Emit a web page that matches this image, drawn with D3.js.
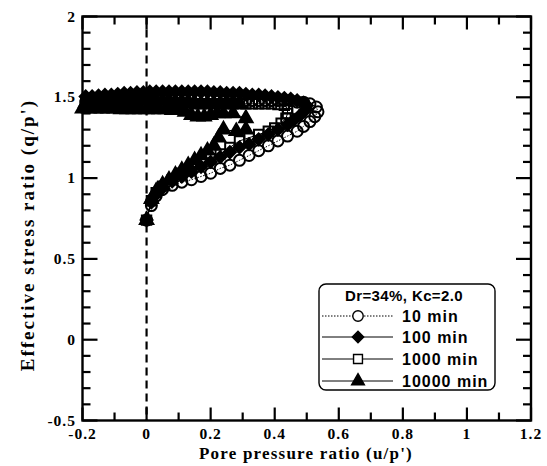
<!DOCTYPE html>
<html><head><meta charset="utf-8">
<script src="https://cdn.jsdelivr.net/npm/d3@7"></script>
<style>body{margin:0;background:#fff}</style>
</head><body>
<svg id="c" width="547" height="466"></svg>
<script>
const xTicks = [-0.2,0,0.2,0.4,0.6,0.8,1,1.2];
const yTicks = [-0.5,0,0.5,1,1.5,2];
const legendTitle = "Dr=34%, Kc=2.0";
const seriesNames = ["10 min","100 min","1000 min","10000 min"];

// 10 min (open circles, dotted line)
const u10 = [0,0.015,0.03,0.05,0.08,0.11,0.14,0.17,0.20,0.23,0.26,0.29,0.32,0.35,0.38,0.41,0.44,0.47,0.49,0.51,0.525,0.535,
  0.53,0.51,0.49,0.47,0.45,0.43,0.41,0.39,0.37,0.35,0.33,0.31,0.29,0.27,0.25,0.23,0.21,0.19,0.17,0.15,0.13,0.11,0.09,0.07,0.05,0.03,0.01,-0.01,-0.03,-0.05,-0.07,-0.09,-0.11,-0.13,-0.15,-0.17,-0.19];
const q10 = [0.74,0.83,0.89,0.93,0.955,0.975,0.99,1.01,1.03,1.06,1.08,1.11,1.14,1.17,1.20,1.23,1.26,1.29,1.32,1.35,1.38,1.41,
  1.44,1.46,1.47,1.47,1.48,1.48,1.48,1.48,1.48,1.48,1.48,1.48,1.49,1.49,1.49,1.49,1.49,1.49,1.49,1.49,1.49,1.49,1.49,1.49,1.49,1.49,1.49,1.49,1.48,1.48,1.48,1.48,1.48,1.47,1.47,1.47,1.47];
// 100 min (filled diamonds)
const u100 = [0,0.015,0.03,0.05,0.08,0.11,0.14,0.17,0.20,0.23,0.26,0.29,0.32,0.35,0.38,0.41,0.44,0.46,0.48,0.495,0.50,
  0.49,0.47,0.45,0.43,0.41,0.39,0.37,0.35,0.33,0.31,0.29,0.27,0.25,0.23,0.21,0.19,0.17,0.15,0.13,0.11,0.09,0.07,0.05,0.03,0.01,-0.01,-0.03,-0.05,-0.07,-0.09,-0.11,-0.13,-0.15,-0.17,-0.19];
const q100 = [0.74,0.85,0.90,0.94,0.98,1.01,1.04,1.07,1.10,1.13,1.16,1.19,1.21,1.24,1.27,1.30,1.33,1.36,1.39,1.42,1.45,
  1.465,1.48,1.49,1.495,1.50,1.505,1.51,1.515,1.515,1.52,1.525,1.525,1.525,1.53,1.53,1.535,1.535,1.535,1.535,1.535,1.535,1.535,1.535,1.535,1.535,1.53,1.53,1.525,1.525,1.52,1.515,1.515,1.51,1.505,1.505];
// 1000 min (open squares)
const u1000 = [0,0.015,0.03,0.05,0.08,0.11,0.14,0.17,0.20,0.23,0.26,0.29,0.32,0.35,0.38,0.40,0.42,0.435,0.44,0.44,
  0.43,0.41,0.39,0.37,0.35,0.33,0.31,0.29,0.27,0.25,0.23,0.21,0.19,0.17,0.15,0.13,0.11,0.09,0.07,0.05,0.03,0.01,-0.01,-0.03,-0.05,-0.07,-0.09,-0.11,-0.13,-0.15,-0.17,-0.19];
const q1000 = [0.74,0.86,0.91,0.95,0.99,1.03,1.06,1.09,1.12,1.15,1.19,1.23,1.25,1.27,1.29,1.31,1.34,1.37,1.40,1.43,
  1.45,1.455,1.46,1.46,1.46,1.46,1.46,1.46,1.46,1.46,1.46,1.46,1.46,1.46,1.46,1.465,1.465,1.465,1.465,1.47,1.47,1.47,1.47,1.47,1.465,1.465,1.465,1.46,1.46,1.46,1.46,1.46];
// 10000 min (filled triangles)
const u10000 = [0,0.015,0.03,0.05,0.07,0.09,0.11,0.13,0.15,0.17,0.19,0.21,0.225,0.24,0.28,0.31,0.31,0.27,0.24,
  0.22,0.20,0.18,0.16,0.14,0.12,0.10,0.08,0.06,0.04,0.02,0.00,-0.02,-0.04,-0.06,-0.08,-0.10,-0.12,-0.14,-0.16,-0.18,-0.20,
  -0.19,-0.17,-0.15,-0.13,-0.11,-0.09,-0.07,-0.05,-0.03,-0.01,0.01,0.03,0.05,0.07,0.09,0.11,0.13,0.15,0.17,0.19,0.21,0.23,0.25,0.27,0.29];
const q10000 = [0.74,0.87,0.92,0.96,0.99,1.02,1.05,1.08,1.11,1.14,1.17,1.20,1.25,1.30,1.29,1.30,1.37,1.40,1.40,
  1.40,1.39,1.38,1.38,1.39,1.41,1.42,1.42,1.425,1.425,1.425,1.425,1.425,1.425,1.425,1.425,1.43,1.43,1.43,1.43,1.43,1.43,
  1.465,1.47,1.475,1.475,1.48,1.48,1.48,1.48,1.48,1.48,1.48,1.48,1.48,1.48,1.475,1.47,1.47,1.465,1.46,1.46,1.46,1.46,1.46,1.46,1.46];

const svg = d3.select("#c");
svg.append("rect").attr("width",547).attr("height",466).attr("fill","#fff");
const L=82.5, R=531, T=16.5, B=420.5;
const x = d3.scaleLinear().domain([-0.2,1.2]).range([L,R]);
const y = d3.scaleLinear().domain([-0.5,2]).range([B,T]);

// ticks (inward, all four sides)
const ax = svg.append("g").attr("stroke","#000").attr("stroke-width",2.2);
const xMinor = d3.range(-2,13).map(i=>i/10);
const yMinor = d3.range(-5,21).map(i=>i/10);
const isMajX = v => xTicks.some(t=>Math.abs(t-v)<1e-6);
const isMajY = v => yTicks.some(t=>Math.abs(t-v)<1e-6);
xMinor.forEach(v=>{
  const len = isMajX(v)?13:8;
  ax.append("line").attr("x1",x(v)).attr("x2",x(v)).attr("y1",B).attr("y2",B-len);
  ax.append("line").attr("x1",x(v)).attr("x2",x(v)).attr("y1",T).attr("y2",T+len);
});
yMinor.forEach(v=>{
  const len = isMajY(v)?15:8;
  ax.append("line").attr("y1",y(v)).attr("y2",y(v)).attr("x1",L).attr("x2",L+len);
  ax.append("line").attr("y1",y(v)).attr("y2",y(v)).attr("x1",R).attr("x2",R-len);
});
svg.append("rect").attr("x",L).attr("y",T).attr("width",R-L).attr("height",B-T)
  .attr("fill","none").attr("stroke","#000").attr("stroke-width",2.4);

// dashed zero line
svg.append("line").attr("x1",x(0)).attr("x2",x(0)).attr("y1",T).attr("y2",B)
  .attr("stroke","#000").attr("stroke-width",2.2).attr("stroke-dasharray","8,5");

// tick labels
const serif = "'Liberation Serif','Times New Roman',serif";
svg.append("g").selectAll("text").data(xTicks).join("text")
  .attr("x",d=>x(d)).attr("y",438.5).attr("text-anchor","middle")
  .attr("font-family",serif).attr("font-weight","bold").attr("font-size",15.5).attr("letter-spacing",1)
  .text(d=>String(d));
svg.append("g").selectAll("text").data(yTicks).join("text")
  .attr("x",76).attr("y",d=>y(d)+5).attr("text-anchor","end")
  .attr("font-family",serif).attr("font-weight","bold").attr("font-size",15.5).attr("letter-spacing",1)
  .text(d=>String(d));
svg.append("text").attr("x",306).attr("y",459).attr("text-anchor","middle")
  .attr("font-family",serif).attr("font-weight","bold").attr("font-size",17).attr("letter-spacing",1.2)
  .text("Pore pressure ratio (u/p')");
svg.append("text").attr("transform","translate(34,235) rotate(-90)").attr("text-anchor","middle")
  .attr("font-family",serif).attr("font-weight","bold").attr("font-size",19).attr("letter-spacing",2)
  .text("Effective stress ratio (q/p')");

// marker styles
const styles = {
  "10 min":   {sym:d3.symbolCircle, filled:false, size:95, rot:0, dash:"1.5,1.5"},
  "100 min":  {sym:d3.symbolSquare, filled:true, size:72, rot:45, dash:null},
  "1000 min": {sym:d3.symbolSquare, filled:false, size:88, rot:0, dash:null},
  "10000 min":{sym:d3.symbolTriangle, filled:true, size:78, rot:0, dash:null}
};
const seriesData = {
  "10 min":[u10,q10], "100 min":[u100,q100], "1000 min":[u1000,q1000], "10000 min":[u10000,q10000]
};
const line = d3.line();
// filled first, open markers (no fill) on top
["100 min","10000 min","1000 min","10 min"].forEach(name=>{
  const s = styles[name], [us,qs] = seriesData[name];
  const pts = us.map((u,i)=>[x(u),y(qs[i])]);
  const g = svg.append("g");
  g.append("path").attr("d",line(pts)).attr("fill","none").attr("stroke","#000")
    .attr("stroke-width",1).attr("stroke-dasharray",s.dash);
  g.selectAll("path.m").data(pts).join("path").attr("class","m")
    .attr("transform",d=>`translate(${d[0]},${d[1]}) rotate(${s.rot})`)
    .attr("d",d3.symbol().type(s.sym).size(s.size))
    .attr("fill",s.filled?"#000":"none").attr("stroke","#000").attr("stroke-width",2);
});

// legend
const sans = "'Liberation Sans',Arial,sans-serif";
const lg = svg.append("g");
lg.append("rect").attr("x",319).attr("y",284).attr("width",176).attr("height",106).attr("rx",7)
  .attr("fill","#fff").attr("stroke","#000").attr("stroke-width",1.4);
lg.append("text").attr("x",404).attr("y",301).attr("text-anchor","middle")
  .attr("font-family",sans).attr("font-weight","bold").attr("font-size",15).attr("letter-spacing",0.4)
  .text(legendTitle);
const legY = [316,337,359,381];
seriesNames.forEach((n,i)=>{
  const s = styles[n];
  lg.append("line").attr("x1",322).attr("x2",393).attr("y1",legY[i]).attr("y2",legY[i])
    .attr("stroke","#000").attr("stroke-width",1).attr("stroke-dasharray",s.dash);
  lg.append("path").attr("transform",`translate(358,${legY[i]}) rotate(${s.rot})`)
    .attr("d",d3.symbol().type(s.sym).size(s.size*0.9))
    .attr("fill",s.filled?"#000":"#fff").attr("stroke","#000").attr("stroke-width",1.4);
  lg.append("text").attr("x",402).attr("y",legY[i]+6)
    .attr("font-family",sans).attr("font-weight","bold").attr("font-size",16).attr("letter-spacing",1)
    .text(n);
});
</script>
</body></html>
